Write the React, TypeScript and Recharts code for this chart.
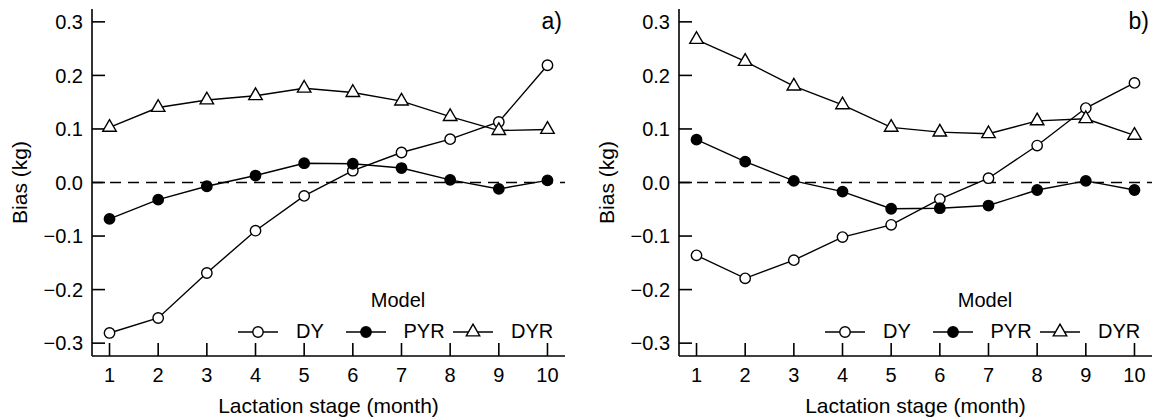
import React from "react";
import { LineChart, Line, XAxis, YAxis, ReferenceLine, Legend } from "recharts";

const months = [1, 2, 3, 4, 5, 6, 7, 8, 9, 10];
const yTicks = [-0.3, -0.2, -0.1, 0, 0.1, 0.2, 0.3];
const modelNames = ["DY", "PYR", "DYR"];

// panel a)
const dyA = [-0.281, -0.253, -0.169, -0.09, -0.025, 0.022, 0.056, 0.081, 0.113, 0.219];
const pyrA = [-0.068, -0.032, -0.007, 0.013, 0.036, 0.035, 0.027, 0.005, -0.012, 0.004];
const dyrA = [0.103, 0.14, 0.154, 0.162, 0.176, 0.168, 0.152, 0.123, 0.097, 0.099];

// panel b)
const dyB = [-0.136, -0.179, -0.145, -0.102, -0.079, -0.031, 0.008, 0.069, 0.139, 0.186];
const pyrB = [0.08, 0.039, 0.003, -0.017, -0.049, -0.048, -0.043, -0.014, 0.003, -0.014];
const dyrB = [0.267, 0.226, 0.18, 0.145, 0.103, 0.094, 0.091, 0.115, 0.119, 0.088];

const FONT = '"Liberation Sans", Arial, Helvetica, sans-serif';
const kinds = ["open", "filled", "triangle"];

function marker(kind: string, cx: number, cy: number, key?: any) {
  if (cx == null || cy == null) return <g key={key} />;
  if (kind === "triangle") {
    const s = 5;
    const d = `M${cx},${cy - 1.555 * s} L${cx + 1.347 * s},${cy + 0.778 * s} L${cx - 1.347 * s},${cy + 0.778 * s} Z`;
    return <path key={key} d={d} fill="#fff" stroke="#000" strokeWidth={1.4} strokeLinejoin="miter" />;
  }
  return (
    <circle
      key={key}
      cx={cx}
      cy={cy}
      r={5.2}
      fill={kind === "filled" ? "#000" : "#fff"}
      stroke="#000"
      strokeWidth={1.4}
    />
  );
}

const fmtTick = (v: number) => (v < 0 ? "\u2212" : "") + Math.abs(v).toFixed(1);

const ModelLegend = () => (
  <div style={{ position: "relative", width: 332, height: 60, fontSize: 20, lineHeight: "20px", color: "#000", fontFamily: FONT }}>
    <div style={{ position: "absolute", left: 0, top: 4, width: 332, textAlign: "center" }}>Model</div>
    {modelNames.map((name, i) => (
      <div key={name} style={{ position: "absolute", left: 6 + i * 107.5, top: 0 }}>
        <svg width={40} height={20} style={{ position: "absolute", left: 0, top: 36, overflow: "visible" }}>
          <line x1={0} x2={40} y1={10} y2={10} stroke="#000" strokeWidth={1.4} />
          {marker(kinds[i], 20, 10)}
        </svg>
        <span style={{ position: "absolute", left: 58, top: 35, whiteSpace: "nowrap" }}>{name}</span>
      </div>
    ))}
  </div>
);

function Panel({ dy, pyr, dyr, tag }: { dy: number[]; pyr: number[]; dyr: number[]; tag: string }) {
  const rows = months.map((m, i) => ({ month: m, DY: dy[i], PYR: pyr[i], DYR: dyr[i] }));
  const series = [dy, pyr, dyr];
  return (
    <div style={{ position: "relative", width: 567, height: 420 }}>
      <LineChart width={567} height={420} data={rows} margin={{ top: 9, right: 2, bottom: 0, left: 0 }}>
        <XAxis
          type="number"
          dataKey="month"
          domain={[0.64, 10.36]}
          ticks={months}
          allowDataOverflow
          interval={0}
          height={64}
          tickSize={-13}
          tickMargin={25}
          axisLine={{ stroke: "#000", strokeWidth: 1.6 }}
          tickLine={{ stroke: "#000", strokeWidth: 1.6 }}
          tick={{ fill: "#000", fontSize: 20 }}
          label={{ value: "Lactation stage (month)", position: "insideBottom", offset: 7, fill: "#000", fontSize: 21 }}
        />
        <YAxis
          type="number"
          domain={[-0.324, 0.324]}
          ticks={yTicks}
          allowDataOverflow
          interval={0}
          width={92}
          tickSize={-13}
          tickMargin={22}
          tickFormatter={fmtTick}
          axisLine={{ stroke: "#000", strokeWidth: 1.6 }}
          tickLine={{ stroke: "#000", strokeWidth: 1.6 }}
          tick={{ fill: "#000", fontSize: 20 }}
          label={{
            value: "Bias (kg)",
            angle: -90,
            position: "insideLeft",
            offset: 20,
            fill: "#000",
            fontSize: 21,
            style: { textAnchor: "middle" },
          }}
        />
        <ReferenceLine y={0} stroke="#000" strokeWidth={1.4} strokeDasharray="11 7" />
        {modelNames.map((name, i) => (
          <Line
            key={name}
            type="linear"
            dataKey={name}
            stroke="#000"
            strokeWidth={1.4}
            isAnimationActive={false}
            activeDot={false}
            dot={(p: any) => marker(kinds[i], p.cx, p.cy, `${name}-${p.index}`)}
          />
        ))}
        <Legend
          layout="horizontal"
          verticalAlign="middle"
          align="center"
          wrapperStyle={{ left: 232, top: 286, width: 332, height: 60 }}
          content={() => <ModelLegend />}
        />
      </LineChart>
      <div style={{ position: "absolute", right: 5, top: 10, fontSize: 23, lineHeight: "23px", color: "#000" }}>{tag}</div>
    </div>
  );
}

export default function App() {
  return (
    <div style={{ position: "absolute", left: 0, top: 0, width: 1154, height: 420, background: "#fff", fontFamily: FONT }}>
      <div style={{ position: "absolute", left: 0, top: 0 }}>
        <Panel dy={dyA} pyr={pyrA} dyr={dyrA} tag="a)" />
      </div>
      <div style={{ position: "absolute", left: 587, top: 0 }}>
        <Panel dy={dyB} pyr={pyrB} dyr={dyrB} tag="b)" />
      </div>
    </div>
  );
}
